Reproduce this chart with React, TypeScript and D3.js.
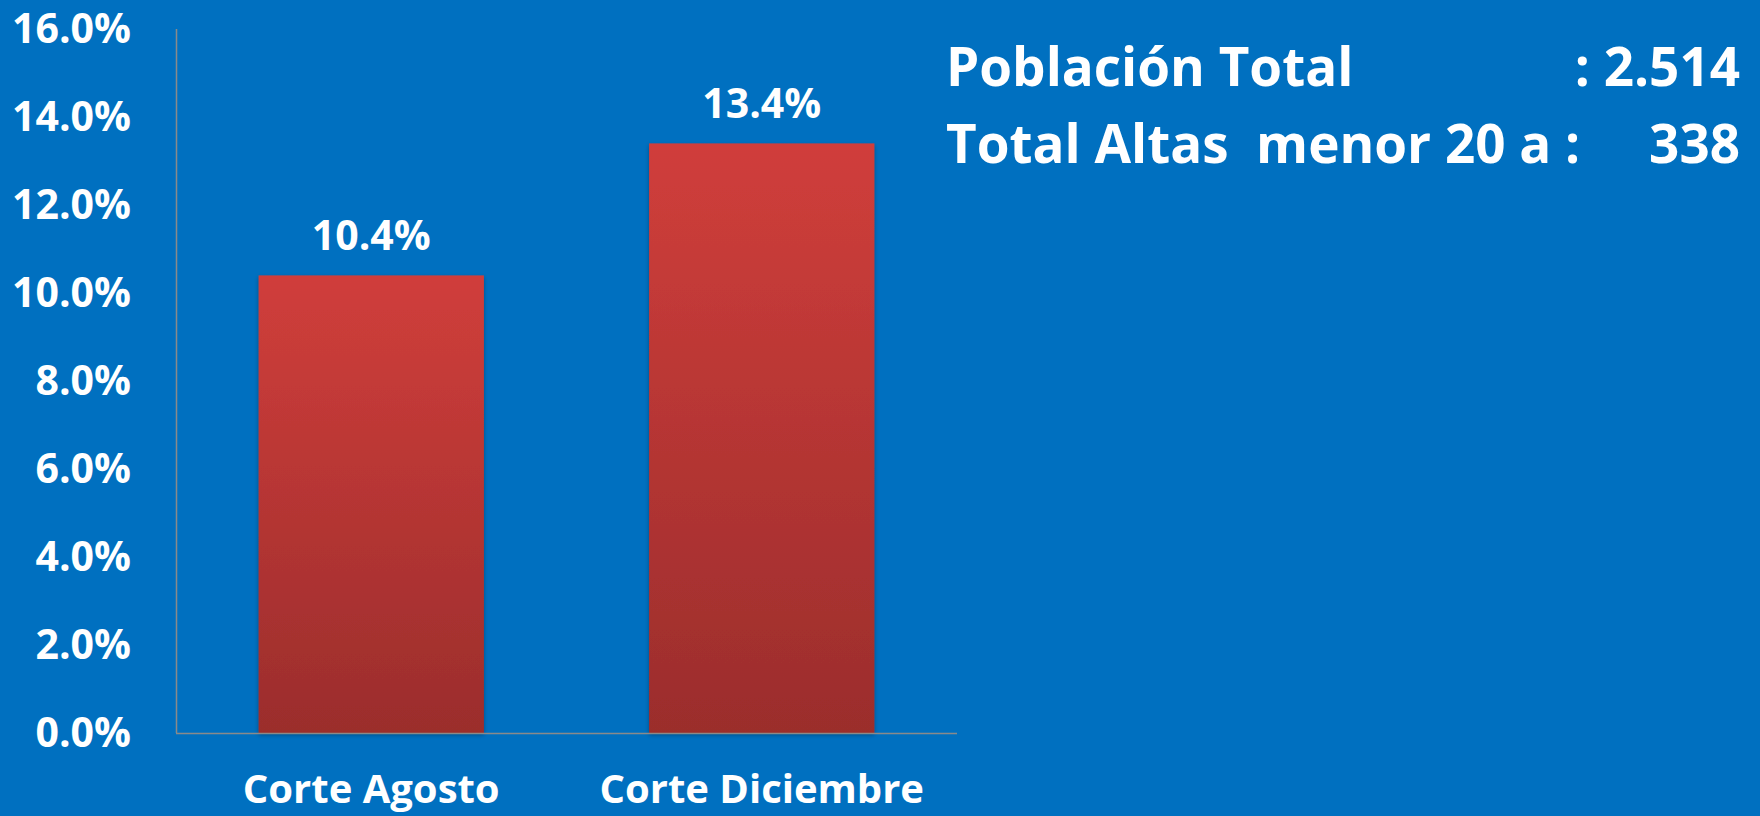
import * as d3 from "d3";

const categories = ["Corte Agosto", "Corte Diciembre"];
const values = [10.4, 13.4];
const yTicks = [0, 2, 4, 6, 8, 10, 12, 14, 16];

const infoLabels = ["Población Total", "Total Altas  menor 20 a :"];
const infoValues = [": 2.514", "338"];

const W = 1760;
const H = 816;
const FONT = "'Open Sans', 'Noto Sans', sans-serif";

export default function App() {
  const margin = { left: 176, right: 957, top: 29, bottom: 733 };

  const x = d3
    .scaleBand<string>()
    .domain(categories)
    .range([margin.left, margin.right])
    .paddingInner(0.423)
    .paddingOuter(0.2115);

  const y = d3.scaleLinear().domain([0, 16]).range([margin.bottom, margin.top]);

  const fmt = (v: number) => `${v.toFixed(1)}%`;

  return (
    <div style={{ position: "absolute", left: 0, top: 0 }}>
      <svg width={W} height={H} style={{ display: "block" }}>
        <defs>
          <linearGradient id="barFill" x1="0" y1="0" x2="0" y2="1">
            <stop offset="0%" stopColor="#D03E3B" />
            <stop offset="100%" stopColor="#9B2D2C" />
          </linearGradient>
          <filter id="barShadow" x="-10%" y="-10%" width="120%" height="120%">
            <feDropShadow dx="0" dy="2" stdDeviation="2" floodColor="#000" floodOpacity="0.3" />
          </filter>
        </defs>
        <rect width={W} height={H} fill="#0070C0" />

        {/* bars */}
        {categories.map((c, i) => (
          <rect
            key={c}
            x={x(c)}
            y={y(values[i])}
            width={x.bandwidth()}
            height={y(0) - y(values[i])}
            fill="url(#barFill)"
            filter="url(#barShadow)"
          />
        ))}

        {/* axes */}
        <line x1={margin.left + 0.5} x2={margin.left + 0.5} y1={y(16)} y2={y(0)} stroke="#8A8A8A" strokeWidth={1.5} />
        <line x1={margin.left} x2={margin.right} y1={y(0) + 0.5} y2={y(0) + 0.5} stroke="#8A8A8A" strokeWidth={1.5} />

        {/* y tick labels */}
        {yTicks.map((t) => (
          <text
            key={t}
            x={131}
            y={y(t) + 14}
            textAnchor="end"
            fontFamily={FONT}
            fontWeight="bold"
            fontSize={41}
            fill="#fff"
          >
            {fmt(t)}
          </text>
        ))}

        {/* value labels */}
        {categories.map((c, i) => (
          <text
            key={c}
            x={(x(c) ?? 0) + x.bandwidth() / 2}
            y={y(values[i]) - 25}
            textAnchor="middle"
            fontFamily={FONT}
            fontWeight="bold"
            fontSize={41}
            fill="#fff"
          >
            {fmt(values[i])}
          </text>
        ))}

        {/* category labels */}
        {categories.map((c) => (
          <text
            key={c}
            x={(x(c) ?? 0) + x.bandwidth() / 2}
            y={803}
            textAnchor="middle"
            fontFamily={FONT}
            fontWeight="bold"
            fontSize={40}
            fill="#fff"
          >
            {c}
          </text>
        ))}

        {/* info text */}
        {infoLabels.map((l, i) => (
          <g key={l} fontFamily={FONT} fontWeight="bold" fontSize={53} fill="#fff">
            <text x={946} y={86 + i * 77} style={{ whiteSpace: "pre" }}>
              {l}
            </text>
            <text x={1740} y={86 + i * 77} textAnchor="end" style={{ whiteSpace: "pre" }}>
              {infoValues[i]}
            </text>
          </g>
        ))}
      </svg>
    </div>
  );
}
